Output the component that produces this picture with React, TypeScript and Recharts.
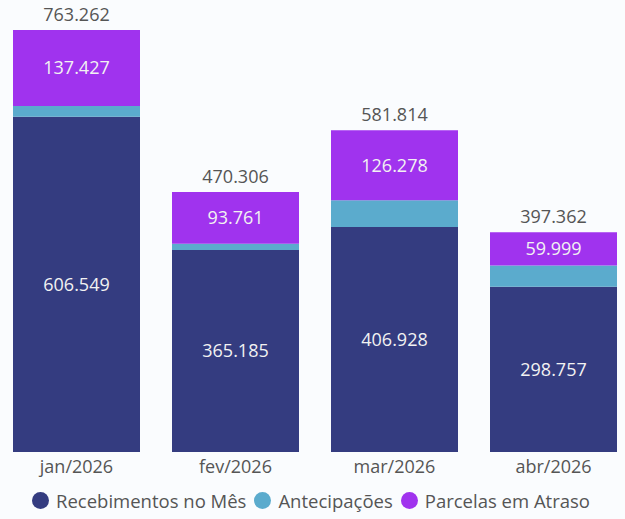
import { BarChart, Bar, XAxis, YAxis, Legend, LabelList } from 'recharts';

const months = ['jan/2026', 'fev/2026', 'mar/2026', 'abr/2026'];
const recebimentos = [606549, 365185, 406928, 298757];
const antecipacoes = [19286, 11360, 48608, 38606];
const atraso = [137427, 93761, 126278, 59999];
const totals = [763262, 470306, 581814, 397362];

const series = [
  { key: 'recebimentos', name: 'Recebimentos no Mês', color: '#343C80' },
  { key: 'antecipacoes', name: 'Antecipações', color: '#5BABCD' },
  { key: 'atraso', name: 'Parcelas em Atraso', color: '#A033EE' },
];

const data = months.map((m, i) => ({
  month: m,
  recebimentos: recebimentos[i],
  antecipacoes: antecipacoes[i],
  atraso: atraso[i],
  total: totals[i],
}));

const font = '"Segoe UI", "Open Sans", sans-serif';

// pt-BR thousand separator
const fmt = (v: any) => String(v).replace(/\B(?=(\d{3})+(?!\d))/g, '.');

function LegendContent() {
  return (
    <div
      style={{
        height: 38,
        display: 'flex',
        justifyContent: 'center',
        alignItems: 'center',
        fontFamily: font,
        fontSize: 18.5,
        color: '#555',
      }}
    >
      {series.map((s) => (
        <div key={s.key} style={{ display: 'flex', alignItems: 'center', marginRight: 8 }}>
          <span
            style={{
              width: 17,
              height: 17,
              borderRadius: '50%',
              background: s.color,
              display: 'inline-block',
              marginRight: 7,
            }}
          />
          {s.name}
        </div>
      ))}
    </div>
  );
}

export default function App() {
  return (
    <div style={{ position: 'absolute', left: 0, top: 0, width: 625, height: 519, background: '#FAFCFE' }}>
      <BarChart
        width={625}
        height={519}
        data={data}
        margin={{ top: 30, right: -8, left: -3, bottom: 0 }}
        barCategoryGap={16}
      >
        <XAxis
          dataKey="month"
          axisLine={false}
          tickLine={false}
          height={29}
          tick={{ fill: '#555', fontSize: 18, fontFamily: font }}
          tickMargin={2}
        />
        <YAxis hide domain={[0, 'dataMax']} />
        <Legend verticalAlign="bottom" content={<LegendContent />} />
        <Bar dataKey="recebimentos" name="Recebimentos no Mês" stackId="a" fill={series[0].color} isAnimationActive={false}>
          <LabelList
            dataKey="recebimentos"
            position="center"
            formatter={fmt}
            style={{ fill: '#F2F2F2', fontSize: 18, fontFamily: font }}
          />
        </Bar>
        <Bar dataKey="antecipacoes" name="Antecipações" stackId="a" fill={series[1].color} isAnimationActive={false} />
        <Bar dataKey="atraso" name="Parcelas em Atraso" stackId="a" fill={series[2].color} isAnimationActive={false}>
          <LabelList
            dataKey="atraso"
            position="center"
            formatter={fmt}
            style={{ fill: '#F2F2F2', fontSize: 18, fontFamily: font }}
          />
          <LabelList
            dataKey="total"
            position="top"
            offset={9}
            formatter={fmt}
            style={{ fill: '#555', fontSize: 18, fontFamily: font }}
          />
        </Bar>
      </BarChart>
    </div>
  );
}
